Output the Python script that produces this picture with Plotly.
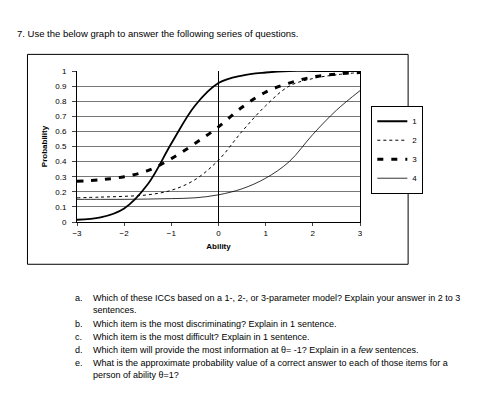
import plotly.graph_objects as go

theta = [-3, -2.5, -2, -1.5, -1, -0.5, 0, 0.5, 1, 1.5, 2, 2.5, 3]
item1 = [0.015, 0.03, 0.09, 0.25, 0.52, 0.77, 0.92, 0.97, 0.99, 1.0, 1.0, 1.0, 1.0]
item2 = [0.16, 0.165, 0.17, 0.18, 0.21, 0.28, 0.41, 0.60, 0.77, 0.90, 0.95, 0.975, 0.99]
item3 = [0.27, 0.28, 0.30, 0.34, 0.42, 0.52, 0.63, 0.76, 0.86, 0.92, 0.96, 0.98, 0.99]
item4 = [0.15, 0.15, 0.15, 0.152, 0.155, 0.16, 0.18, 0.22, 0.29, 0.40, 0.58, 0.74, 0.87]
names = ["1", "2", "3", "4"]
x_ticks = [-3, -2, -1, 0, 1, 2, 3]
y_ticks = [0, 0.1, 0.2, 0.3, 0.4, 0.5, 0.6, 0.7, 0.8, 0.9, 1]

styles = [dict(width=1.8, dash="solid"), dict(width=1, dash="dot"),
          dict(width=3, dash="6px,8px"), dict(width=0.8, dash="solid")]
fig = go.Figure()
for ys, nm, st in zip([item1, item2, item3, item4], names, styles):
    fig.add_trace(go.Scatter(x=theta, y=ys, name=nm, mode="lines",
                             line=dict(color="black", shape="spline", **st)))

fig.update_layout(
    width=490, height=415, margin=dict(l=69, r=138, t=63, b=201),
    paper_bgcolor="white", plot_bgcolor="white",
    font=dict(family="Liberation Sans, Arial", size=8, color="black"),
    showlegend=True,
    legend=dict(x=1.04, y=0.77, xanchor="left", yanchor="top",
                bordercolor="black", borderwidth=1, font=dict(size=8),
                itemwidth=30, tracegroupgap=0),
    xaxis=dict(range=[-3, 3], tickvals=x_ticks, ticks="outside", ticklen=3,
               showgrid=False, zeroline=True, zerolinecolor="black", zerolinewidth=1,
               showline=True, linecolor="black",
               title=dict(text="<b>Ability</b>", font=dict(size=8), standoff=6)),
    yaxis=dict(range=[0, 1], tickvals=y_ticks, ticks="outside", ticklen=4, ticklabelstandoff=4,
               showgrid=True, gridcolor="#777", gridwidth=1, zeroline=False,
               showline=True, linecolor="black", mirror=True,
               title=dict(text="<b>Probability</b>", font=dict(size=8), standoff=6)),
)
fig.add_shape(type="rect", xref="paper", yref="paper", x0=-0.175, x1=1.17, y0=-0.28, y1=1.11,
              line=dict(color="black", width=1))

fig.add_annotation(text="7. Use the below graph to answer the following series of questions.",
                   xref="paper", yref="paper", x=-0.22, y=1.25, xanchor="left", yanchor="middle",
                   showarrow=False, font=dict(size=9.5))
qs = [
    ("a.", "Which of these ICCs based on a 1-, 2-, or 3-parameter model? Explain your answer in 2 to 3<br>sentences."),
    ("b.", "Which item is the most discriminating? Explain in 1 sentence."),
    ("c.", "Which item is the most difficult? Explain in 1 sentence."),
    ("d.", "Which item will provide the most information at θ= -1? Explain in a <i>few</i> sentences."),
    ("e.", "What is the approximate probability value of a correct answer to each of those items for a<br>person of ability θ=1?"),
]
ypix = [283, 309, 322, 335, 348]
for (lab, q), yp in zip(qs, ypix):
    yy = 1 - (yp - 63) / (415 - 63 - 201)
    fig.add_annotation(text=lab, xref="paper", yref="paper", x=(65 - 69) / 283, y=yy,
                       xanchor="left", yanchor="top", showarrow=False, font=dict(size=9))
    fig.add_annotation(text=q, xref="paper", yref="paper", x=(83 - 69) / 283, y=yy,
                       xanchor="left", yanchor="top", showarrow=False, align="left",
                       font=dict(size=9))
fig.write_html("out.html")
